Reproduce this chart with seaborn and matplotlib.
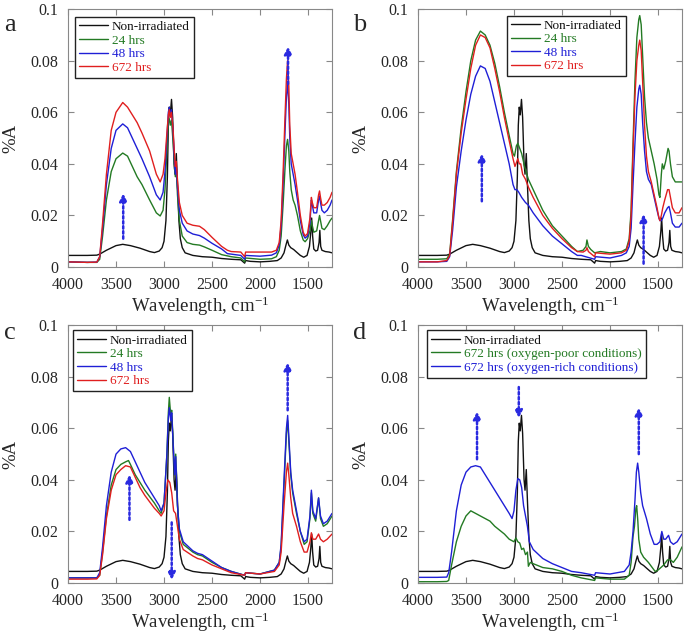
import pandas as pd
import matplotlib
matplotlib.use('Agg')
import matplotlib.pyplot as plt
import matplotlib.ticker as ticker
import seaborn as sns

# spectra: (wavenumber cm-1, %A)
non_irradiated = [(4000, 0.0045), (3900, 0.0045), (3800, 0.0045), (3700, 0.0046), (3670, 0.005),
                  (3600, 0.0065), (3500, 0.0083), (3430, 0.0088), (3350, 0.0083), (3250, 0.0073),
                  (3150, 0.006), (3100, 0.0056), (3050, 0.0062), (3020, 0.0075), (3000, 0.010),
                  (2980, 0.018), (2965, 0.035), (2955, 0.055), (2945, 0.062), (2935, 0.059),
                  (2922, 0.065), (2910, 0.058), (2895, 0.040), (2885, 0.036), (2872, 0.044),
                  (2860, 0.032), (2845, 0.018), (2830, 0.011), (2810, 0.0075), (2780, 0.0055),
                  (2700, 0.0045), (2600, 0.004), (2500, 0.0038), (2400, 0.0033), (2300, 0.003),
                  (2200, 0.0028), (2160, 0.0015), (2150, 0.0025), (2100, 0.0022), (2000, 0.002),
                  (1900, 0.0022), (1820, 0.0025), (1780, 0.0035), (1750, 0.0055), (1730, 0.0085),
                  (1715, 0.0105), (1700, 0.0085), (1680, 0.0075), (1650, 0.0068), (1620, 0.0058),
                  (1580, 0.0045), (1545, 0.0038), (1510, 0.0045), (1485, 0.008), (1470, 0.014),
                  (1462, 0.019), (1452, 0.012), (1440, 0.007), (1420, 0.0062), (1400, 0.0065),
                  (1385, 0.0095), (1377, 0.0142), (1368, 0.008), (1355, 0.0065), (1320, 0.006),
                  (1280, 0.0058), (1250, 0.0055)]

a_24h = [(4000, 0.002), (3800, 0.0018), (3700, 0.0018), (3670, 0.003), (3640, 0.012), (3600, 0.026),
         (3550, 0.037), (3500, 0.042), (3430, 0.0442), (3380, 0.043), (3330, 0.039), (3280, 0.035),
         (3230, 0.032), (3150, 0.026), (3080, 0.021), (3040, 0.0198), (3010, 0.022), (2990, 0.030),
         (2970, 0.045), (2955, 0.056), (2945, 0.0575), (2935, 0.055), (2922, 0.057), (2905, 0.048),
         (2890, 0.038), (2882, 0.035), (2872, 0.038), (2860, 0.028), (2840, 0.018), (2810, 0.012),
         (2760, 0.0095), (2700, 0.0088), (2630, 0.0085), (2580, 0.0078), (2500, 0.0065), (2400, 0.0048),
         (2300, 0.004), (2200, 0.0035), (2160, 0.002), (2150, 0.0035), (2000, 0.003), (1880, 0.0032),
         (1830, 0.004), (1800, 0.0065), (1780, 0.012), (1760, 0.024), (1740, 0.038), (1725, 0.047),
         (1713, 0.0495), (1700, 0.045), (1690, 0.037), (1675, 0.030), (1655, 0.026), (1635, 0.024),
         (1610, 0.020), (1580, 0.014), (1550, 0.0105), (1530, 0.0098), (1505, 0.011), (1480, 0.014),
         (1465, 0.018), (1455, 0.016), (1440, 0.0135), (1410, 0.014), (1390, 0.018), (1380, 0.020),
         (1370, 0.018), (1355, 0.015), (1330, 0.0145), (1300, 0.016), (1270, 0.018), (1250, 0.019)]

a_48h = [(4000, 0.002), (3800, 0.0018), (3700, 0.0019), (3670, 0.004), (3640, 0.015), (3600, 0.032),
         (3550, 0.046), (3500, 0.053), (3430, 0.0555), (3380, 0.054), (3330, 0.050), (3280, 0.046),
         (3230, 0.042), (3150, 0.035), (3080, 0.028), (3040, 0.026), (3010, 0.029), (2990, 0.037),
         (2970, 0.050), (2955, 0.060), (2945, 0.062), (2935, 0.059), (2922, 0.061), (2905, 0.052),
         (2890, 0.040), (2882, 0.036), (2872, 0.039), (2860, 0.031), (2840, 0.022), (2810, 0.017),
         (2760, 0.014), (2700, 0.0128), (2630, 0.0122), (2580, 0.0112), (2500, 0.0092), (2400, 0.007),
         (2340, 0.0052), (2300, 0.005), (2200, 0.0045), (2160, 0.003), (2150, 0.0045), (2000, 0.0042),
         (1880, 0.0046), (1830, 0.0055), (1800, 0.0085), (1780, 0.016), (1760, 0.032), (1740, 0.052),
         (1725, 0.066), (1713, 0.0715), (1700, 0.063), (1690, 0.050), (1675, 0.040), (1655, 0.036),
         (1635, 0.032), (1610, 0.026), (1580, 0.018), (1550, 0.0125), (1530, 0.0112), (1505, 0.012),
         (1480, 0.017), (1465, 0.026), (1455, 0.024), (1440, 0.021), (1410, 0.021), (1390, 0.026),
         (1380, 0.0275), (1370, 0.025), (1355, 0.022), (1330, 0.021), (1300, 0.022), (1270, 0.024),
         (1250, 0.026)]

a_672h = [(4000, 0.002), (3800, 0.0018), (3700, 0.0019), (3670, 0.004), (3640, 0.017), (3600, 0.036),
          (3550, 0.053), (3500, 0.060), (3430, 0.0638), (3380, 0.062), (3330, 0.059), (3280, 0.056),
          (3230, 0.052), (3150, 0.045), (3080, 0.036), (3040, 0.033), (3010, 0.036), (2990, 0.042),
          (2970, 0.052), (2955, 0.059), (2945, 0.061), (2935, 0.058), (2922, 0.060), (2905, 0.053),
          (2890, 0.043), (2882, 0.039), (2872, 0.041), (2860, 0.034), (2840, 0.025), (2810, 0.020),
          (2760, 0.017), (2700, 0.0162), (2630, 0.0158), (2580, 0.0145), (2500, 0.0115), (2400, 0.008),
          (2340, 0.0065), (2300, 0.006), (2200, 0.0058), (2160, 0.004), (2150, 0.0058), (2000, 0.0058),
          (1880, 0.0058), (1830, 0.0065), (1800, 0.0095), (1780, 0.018), (1760, 0.036), (1740, 0.058),
          (1725, 0.073), (1713, 0.080), (1700, 0.070), (1690, 0.055), (1675, 0.044), (1655, 0.040),
          (1635, 0.036), (1610, 0.029), (1580, 0.020), (1550, 0.0135), (1530, 0.012), (1505, 0.013),
          (1480, 0.019), (1465, 0.027), (1455, 0.025), (1440, 0.023), (1410, 0.023), (1390, 0.028),
          (1380, 0.0295), (1370, 0.027), (1355, 0.024), (1330, 0.024), (1300, 0.025), (1270, 0.027),
          (1250, 0.029)]

b_24h = [(4000, 0.003), (3800, 0.003), (3700, 0.0032), (3670, 0.005), (3640, 0.018), (3600, 0.037),
         (3550, 0.054), (3500, 0.068), (3450, 0.080), (3400, 0.088), (3350, 0.0915), (3300, 0.090),
         (3250, 0.086), (3200, 0.079), (3150, 0.070), (3100, 0.060), (3050, 0.051), (3010, 0.044),
         (2995, 0.043), (2975, 0.047), (2960, 0.048), (2940, 0.046), (2920, 0.044), (2890, 0.039),
         (2850, 0.034), (2800, 0.030), (2700, 0.022), (2600, 0.016), (2500, 0.012), (2400, 0.008),
         (2340, 0.006), (2280, 0.0065), (2250, 0.008), (2240, 0.0105), (2225, 0.008), (2200, 0.0068),
         (2160, 0.0055), (2100, 0.006), (2000, 0.0055), (1880, 0.006), (1830, 0.007), (1800, 0.011),
         (1780, 0.022), (1760, 0.048), (1740, 0.072), (1720, 0.089), (1700, 0.096), (1690, 0.0975),
         (1675, 0.094), (1660, 0.082), (1640, 0.066), (1620, 0.056), (1600, 0.050), (1570, 0.045),
         (1540, 0.040), (1510, 0.034), (1490, 0.028), (1480, 0.027), (1465, 0.036), (1455, 0.040),
         (1440, 0.038), (1420, 0.041), (1395, 0.046), (1385, 0.045), (1370, 0.040), (1350, 0.035),
         (1320, 0.033), (1280, 0.033), (1250, 0.033)]

b_48h = [(4000, 0.002), (3800, 0.002), (3700, 0.0022), (3670, 0.004), (3640, 0.014), (3600, 0.031),
         (3550, 0.045), (3500, 0.057), (3450, 0.067), (3400, 0.074), (3350, 0.078), (3300, 0.077),
         (3250, 0.072), (3200, 0.064), (3150, 0.056), (3100, 0.048), (3050, 0.040), (3010, 0.032),
         (2990, 0.030), (2970, 0.030), (2950, 0.029), (2920, 0.027), (2880, 0.025), (2850, 0.024),
         (2800, 0.021), (2700, 0.016), (2600, 0.012), (2500, 0.009), (2400, 0.006), (2340, 0.0045),
         (2300, 0.0045), (2160, 0.003), (2150, 0.004), (2000, 0.0035), (1880, 0.0045), (1830, 0.0055),
         (1800, 0.008), (1780, 0.015), (1760, 0.032), (1740, 0.048), (1720, 0.062), (1700, 0.069),
         (1690, 0.0705), (1675, 0.067), (1660, 0.056), (1640, 0.045), (1620, 0.037), (1600, 0.034),
         (1570, 0.032), (1540, 0.027), (1510, 0.022), (1490, 0.019), (1480, 0.018), (1465, 0.018),
         (1450, 0.019), (1430, 0.021), (1400, 0.023), (1385, 0.0235), (1370, 0.021), (1350, 0.017),
         (1320, 0.0155), (1280, 0.0155), (1250, 0.017)]

b_672h = [(4000, 0.002), (3800, 0.002), (3700, 0.0025), (3670, 0.0045), (3640, 0.017), (3600, 0.036),
          (3550, 0.052), (3500, 0.065), (3450, 0.077), (3400, 0.086), (3350, 0.090), (3300, 0.089),
          (3250, 0.085), (3200, 0.077), (3150, 0.068), (3100, 0.058), (3050, 0.049), (3010, 0.042),
          (2990, 0.039), (2970, 0.041), (2960, 0.042), (2945, 0.040), (2930, 0.040), (2910, 0.036),
          (2880, 0.034), (2850, 0.031), (2800, 0.027), (2700, 0.020), (2600, 0.015), (2500, 0.011),
          (2400, 0.0075), (2340, 0.006), (2280, 0.0058), (2250, 0.0065), (2240, 0.0075), (2225, 0.006),
          (2160, 0.004), (2150, 0.0055), (2000, 0.005), (1880, 0.0055), (1830, 0.0065), (1800, 0.010),
          (1780, 0.02), (1760, 0.045), (1740, 0.066), (1720, 0.080), (1700, 0.086), (1690, 0.088),
          (1675, 0.084), (1660, 0.072), (1640, 0.055), (1620, 0.043), (1600, 0.037), (1570, 0.033),
          (1540, 0.028), (1510, 0.023), (1490, 0.019), (1480, 0.018), (1465, 0.020), (1450, 0.023),
          (1430, 0.026), (1400, 0.030), (1385, 0.030), (1370, 0.027), (1350, 0.023), (1320, 0.021),
          (1280, 0.021), (1250, 0.023)]

c_24h = [(4000, 0.002), (3800, 0.002), (3700, 0.002), (3670, 0.003), (3640, 0.012), (3600, 0.026),
         (3550, 0.038), (3500, 0.044), (3450, 0.046), (3400, 0.047), (3370, 0.0475), (3350, 0.046),
         (3300, 0.042), (3250, 0.039), (3200, 0.036), (3100, 0.031), (3050, 0.028), (3030, 0.027),
         (3000, 0.031), (2970, 0.050), (2955, 0.066), (2945, 0.072), (2930, 0.065), (2920, 0.067),
         (2905, 0.055), (2890, 0.042), (2878, 0.050), (2860, 0.030), (2840, 0.020), (2800, 0.015),
         (2700, 0.012), (2650, 0.011), (2600, 0.0105), (2500, 0.008), (2400, 0.006), (2300, 0.0045),
         (2160, 0.003), (2150, 0.004), (2000, 0.0035), (1850, 0.005), (1800, 0.008), (1780, 0.014),
         (1750, 0.038), (1725, 0.058), (1712, 0.063), (1700, 0.055), (1680, 0.042), (1660, 0.035),
         (1620, 0.027), (1580, 0.020), (1540, 0.015), (1510, 0.016), (1480, 0.025), (1465, 0.035),
         (1450, 0.027), (1420, 0.024), (1390, 0.033), (1370, 0.025), (1340, 0.022), (1300, 0.023),
         (1250, 0.026)]

c_48h = [(4000, 0.002), (3800, 0.002), (3700, 0.002), (3670, 0.004), (3640, 0.014), (3600, 0.030),
         (3550, 0.043), (3500, 0.050), (3450, 0.052), (3400, 0.0525), (3350, 0.051), (3300, 0.047),
         (3250, 0.043), (3200, 0.039), (3100, 0.033), (3050, 0.030), (3030, 0.028), (3000, 0.031),
         (2970, 0.050), (2955, 0.064), (2945, 0.068), (2930, 0.063), (2920, 0.066), (2905, 0.054),
         (2890, 0.042), (2878, 0.049), (2860, 0.030), (2840, 0.021), (2800, 0.016), (2700, 0.0125),
         (2650, 0.0115), (2600, 0.011), (2500, 0.0085), (2400, 0.006), (2300, 0.0045), (2160, 0.003),
         (2150, 0.004), (2000, 0.0035), (1850, 0.005), (1800, 0.008), (1780, 0.015), (1750, 0.040),
         (1725, 0.060), (1712, 0.065), (1700, 0.057), (1680, 0.043), (1660, 0.036), (1620, 0.028),
         (1580, 0.020), (1540, 0.016), (1510, 0.017), (1480, 0.026), (1465, 0.036), (1450, 0.028),
         (1420, 0.025), (1390, 0.033), (1370, 0.026), (1340, 0.023), (1300, 0.024), (1250, 0.027)]

c_672h = [(4000, 0.0015), (3800, 0.0015), (3700, 0.0016), (3670, 0.003), (3640, 0.011), (3600, 0.025),
          (3550, 0.036), (3500, 0.042), (3450, 0.044), (3400, 0.0455), (3350, 0.045), (3300, 0.041),
          (3250, 0.037), (3200, 0.034), (3100, 0.029), (3050, 0.027), (3030, 0.026), (3000, 0.028),
          (2980, 0.035), (2960, 0.040), (2940, 0.039), (2920, 0.035), (2900, 0.028), (2880, 0.027),
          (2860, 0.022), (2840, 0.017), (2800, 0.013), (2700, 0.0105), (2650, 0.0095), (2600, 0.009),
          (2500, 0.007), (2400, 0.0055), (2300, 0.004), (2160, 0.003), (2150, 0.004), (2000, 0.0035),
          (1850, 0.0045), (1800, 0.007), (1780, 0.012), (1750, 0.030), (1725, 0.043), (1712, 0.0465),
          (1700, 0.042), (1680, 0.033), (1660, 0.027), (1620, 0.022), (1580, 0.016), (1540, 0.012),
          (1510, 0.012), (1480, 0.016), (1465, 0.0195), (1450, 0.017), (1420, 0.017), (1390, 0.019),
          (1370, 0.017), (1340, 0.016), (1300, 0.017), (1250, 0.019)]

d_poor = [(4000, 0.0005), (3800, 0.0005), (3700, 0.0006), (3680, 0.001), (3650, 0.007), (3600, 0.016),
          (3550, 0.022), (3500, 0.026), (3450, 0.028), (3400, 0.027), (3350, 0.026), (3300, 0.025),
          (3250, 0.024), (3200, 0.022), (3100, 0.019), (3050, 0.017), (3000, 0.016), (2980, 0.0175),
          (2960, 0.016), (2940, 0.0155), (2920, 0.013), (2900, 0.0135), (2880, 0.011), (2860, 0.012),
          (2850, 0.0065), (2830, 0.008), (2800, 0.0075), (2700, 0.006), (2600, 0.0055), (2500, 0.0045),
          (2400, 0.003), (2300, 0.002), (2160, 0.001), (2150, 0.002), (2000, 0.0015), (1850, 0.0015),
          (1800, 0.003), (1780, 0.008), (1760, 0.018), (1745, 0.022), (1730, 0.029), (1722, 0.030),
          (1710, 0.024), (1700, 0.017), (1680, 0.012), (1650, 0.010), (1600, 0.008), (1560, 0.006),
          (1530, 0.0045), (1500, 0.005), (1470, 0.006), (1440, 0.007), (1400, 0.009), (1370, 0.009),
          (1340, 0.008), (1300, 0.010), (1250, 0.014)]

d_rich = [(4000, 0.0022), (3800, 0.0022), (3700, 0.0023), (3680, 0.004), (3650, 0.012), (3600, 0.028),
          (3550, 0.038), (3500, 0.043), (3450, 0.045), (3400, 0.0455), (3350, 0.045), (3300, 0.042),
          (3250, 0.039), (3200, 0.036), (3100, 0.030), (3050, 0.027), (3020, 0.025), (3000, 0.028),
          (2980, 0.036), (2960, 0.0405), (2940, 0.040), (2920, 0.037), (2900, 0.030), (2880, 0.026),
          (2860, 0.022), (2840, 0.016), (2800, 0.013), (2700, 0.0095), (2650, 0.0085), (2600, 0.0075),
          (2500, 0.006), (2400, 0.0045), (2300, 0.004), (2160, 0.003), (2150, 0.004), (2000, 0.0035),
          (1850, 0.0045), (1800, 0.007), (1780, 0.012), (1760, 0.020), (1740, 0.032), (1725, 0.043),
          (1712, 0.0465), (1700, 0.043), (1680, 0.035), (1660, 0.030), (1620, 0.025), (1580, 0.019),
          (1540, 0.015), (1510, 0.015), (1480, 0.016), (1460, 0.020), (1440, 0.017), (1420, 0.017),
          (1390, 0.0185), (1370, 0.016), (1340, 0.015), (1300, 0.016), (1250, 0.019)]

# dotted arrows: (wavenumber, from, to)
arrows_a = [(3425, 0.011, 0.0285), (1708, 0.071, 0.0855)]
arrows_b = [(3335, 0.0255, 0.044), (1650, 0.0013, 0.0205)]
arrows_c = [(3360, 0.0245, 0.042), (2920, 0.0235, 0.0012), (1712, 0.067, 0.0855)]
arrows_d = [(3385, 0.048, 0.0665), (2950, 0.076, 0.064), (1700, 0.050, 0.068)]

BLACK, GREEN, BLUE, RED = '#111111', '#237a23', '#1f1fd6', '#e01f1f'
ARROW = '#2a2ae0'

sns.set_style('ticks')
plt.rcParams['font.family'] = ['Liberation Serif', 'DejaVu Serif']
plt.rcParams['mathtext.fontset'] = 'custom'
plt.rcParams['mathtext.rm'] = 'Liberation Serif'
plt.rcParams['mathtext.default'] = 'regular'

fig = plt.figure(figsize=(6.85, 6.32), dpi=100)

panels = [
    ('a', [0.0993, 0.5775, 0.3854, 0.408],
     [(non_irradiated, 'Non-irradiated', BLACK), (a_24h, '24 hrs', GREEN),
      (a_48h, '48 hrs', BLUE), (a_672h, '672 hrs', RED)], arrows_a, (0.027, 0.97)),
    ('b', [0.6102, 0.5775, 0.3854, 0.408],
     [(non_irradiated, 'Non-irradiated', BLACK), (b_24h, '24 hrs', GREEN),
      (b_48h, '48 hrs', BLUE), (b_672h, '672 hrs', RED)], arrows_b, (0.337, 0.975)),
    ('c', [0.0993, 0.0775, 0.3854, 0.408],
     [(non_irradiated, 'Non-irradiated', BLACK), (c_24h, '24 hrs', GREEN),
      (c_48h, '48 hrs', BLUE), (c_672h, '672 hrs', RED)], arrows_c, (0.019, 0.98)),
    ('d', [0.6102, 0.0775, 0.3854, 0.408],
     [(non_irradiated, 'Non-irradiated', BLACK),
      (d_poor, '672 hrs (oxygen-poor conditions)', GREEN),
      (d_rich, '672 hrs (oxygen-rich conditions)', BLUE)], arrows_d, (0.034, 0.98)),
]

for letter, rect, series, arrows, leg_pos in panels:
    ax = fig.add_axes(rect)
    for pts, label, col in series:
        df = pd.DataFrame(pts, columns=['wn', 'absorb'])
        sns.lineplot(data=df, x='wn', y='absorb', ax=ax, color=col, lw=1.0,
                     label=label, estimator=None)
    for x, y0, y1 in arrows:
        ax.annotate('', xy=(x, y1), xytext=(x, y0),
                    arrowprops=dict(arrowstyle='-|>', color=ARROW, lw=1.8,
                                    linestyle=(0, (1, 1)), mutation_scale=11,
                                    shrinkA=0, shrinkB=0))
    ax.set_xlim(4000, 1250)
    ax.set_ylim(0, 0.1)
    ax.xaxis.set_major_locator(ticker.FixedLocator([4000, 3500, 3000, 2500, 2000, 1500]))
    ax.yaxis.set_major_locator(ticker.MultipleLocator(0.02))
    ax.yaxis.set_major_formatter(ticker.FuncFormatter(lambda v, p: '%g' % round(v, 3)))
    ax.tick_params(direction='in', top=True, right=True, length=4, color='#888888',
                   labelsize=11.5, width=0.8)
    ax.tick_params(axis='x', pad=7)
    ax.tick_params(axis='y', pad=7)
    for sp in ax.spines.values():
        sp.set_color('#888888')
        sp.set_linewidth(0.8)
    ax.set_xlabel('Wavelength, cm$^{-1}$', fontsize=13.5, labelpad=1)
    ax.set_ylabel('%A', fontsize=13.5, labelpad=8)
    ax.text(-0.22, 0.94 if letter in 'ab' else 0.97, letter, transform=ax.transAxes,
            fontsize=19, ha='center', va='center')
    leg = ax.legend(loc='upper left', bbox_to_anchor=leg_pos, fontsize=9.5, frameon=True,
                    fancybox=False, framealpha=1, edgecolor='#222222', borderpad=0.3,
                    labelspacing=0.1, handlelength=2.2, handletextpad=0.3, borderaxespad=0)
    leg.get_frame().set_linewidth(1.0)
    for txt, (_, _, col) in zip(leg.get_texts(), series):
        txt.set_color(col)

fig.savefig('out.png', dpi=100)
